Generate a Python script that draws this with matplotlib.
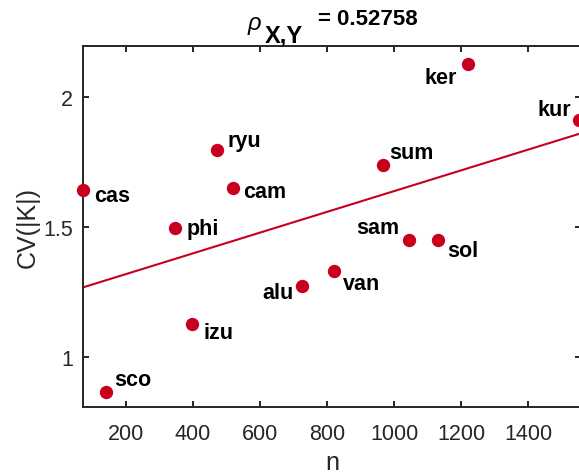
import numpy as np
import matplotlib
matplotlib.use('Agg')
import matplotlib.pyplot as plt

# values
names = ['cas', 'sco', 'phi', 'izu', 'ryu', 'cam', 'alu', 'van', 'sum', 'sam', 'sol', 'ker', 'kur']
n_vals = [73, 141, 347, 399, 471, 521, 724, 821, 968, 1045, 1132, 1219, 1552]
cv_vals = [1.645, 0.865, 1.497, 1.128, 1.798, 1.650, 1.275, 1.333, 1.740, 1.451, 1.452, 2.128, 1.914]
rho_text = '0.52758'

x_ticks = [200, 400, 600, 800, 1000, 1200, 1400]
y_ticks = [1, 1.5, 2]

# label placement (offset in points, horizontal alignment)
label_off = {
    'cas': (8, -4, 'left'), 'sco': (6, 9, 'left'), 'phi': (8, 0, 'left'),
    'izu': (8, -6, 'left'), 'ryu': (8, 7, 'left'), 'cam': (7, -2, 'left'),
    'alu': (-6, -5, 'right'), 'van': (6, -9, 'left'), 'sum': (4, 9, 'left'),
    'sam': (-7, 9, 'right'), 'sol': (6, -8, 'left'), 'ker': (-8, -10, 'right'),
    'kur': (-6, 7, 'right'),
}

plt.rcParams['font.family'] = ['Liberation Sans', 'DejaVu Sans']

red = '#C8001E'
dark = '#262626'
W, H = 579, 477

fig = plt.figure(figsize=(W / 100, H / 100), dpi=100)
ax = fig.add_axes([0.1434, 0.1457, 0.8597, 0.7564])

x = np.array(n_vals)
y = np.array(cv_vals)
ax.plot(x, y, 'o', color=red, markersize=9.6, markeredgewidth=0, clip_on=False, zorder=3)

xlim = (73, 1556)
slope, icpt = np.polyfit(x, y, 1)
xl = np.array(xlim)
ax.plot(xl, slope * xl + icpt, color=red, linewidth=1.5)

for nm, xv, yv in zip(names, n_vals, cv_vals):
    dx, dy, ha = label_off[nm]
    ax.annotate(nm, (xv, yv), xytext=(dx, dy), textcoords='offset points',
                ha=ha, va='center', fontsize=15.5, fontweight='bold', color='black')

ax.set_xlim(*xlim)
ax.set_ylim(0.811, 2.198)
ax.set_xticks(x_ticks)
ax.set_yticks(y_ticks)
ax.set_yticklabels(['1', '1.5', '2'])

for s in ax.spines.values():
    s.set_color(dark)
    s.set_linewidth(1.4)
ax.tick_params(direction='in', length=4, width=1.4, colors=dark, labelsize=15.5,
               top=True, right=True)
ax.tick_params(axis='x', pad=12)
ax.tick_params(axis='y', pad=7)

ax.set_xlabel('n', fontsize=18, color=dark, labelpad=4)
ax.set_ylabel('CV(|K|)', fontsize=18, color=dark, labelpad=3)

# title built from pieces: rho, subscript, value
fig.text(248 / W, 1 - 30 / H, '\u03c1', fontsize=17, fontstyle='italic',
         ha='left', va='baseline', color='black')
fig.text(265 / W, 1 - 43 / H, 'X,Y', fontsize=17, fontweight='bold',
         ha='left', va='baseline', color='black')
fig.text(318 / W, 1 - 25 / H, '= ' + rho_text, fontsize=16, fontweight='bold',
         ha='left', va='baseline', color='black')

fig.savefig('out.png', dpi=100)
